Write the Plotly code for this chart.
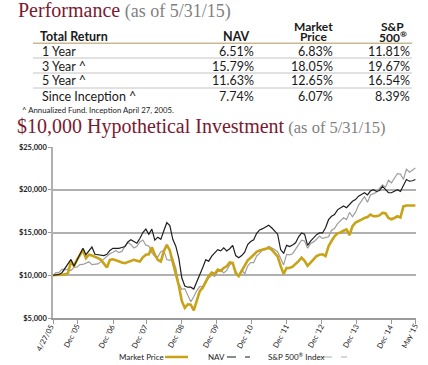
import plotly.graph_objects as go

# ---------------- data ----------------
x_tick_labels = ["4/27/05", "Dec '05", "Dec '06", "Dec '07", "Dec '08", "Dec '09",
                 "Dec '10", "Dec '11", "Dec '12", "Dec '13", "Dec '14", "May '15"]
y_tick_values = [5000, 10000, 15000, 20000, 25000]
y_tick_labels = ["$5,000", "$10,000", "$15,000", "$20,000", "$25,000"]

market_price = [10000, 10000, 10050, 10050, 10100, 10250, 11600, 11100, 11800, 12300,
                12950, 12000, 12400, 12300, 12180, 12000, 11800, 11300, 10900, 11800,
                11870, 11750, 11600, 11500, 11410, 11550, 11650, 11800, 11700, 11600,
                12100, 12400, 12450, 13270, 12400, 11800, 11600, 12800, 13550, 12900,
                11500, 10300, 8800, 7000, 6200, 6600, 6550, 5900, 7000, 8150,
                8550, 9300, 9900, 10300, 10150, 10650, 10500, 10850, 11050, 11500,
                11450, 10250, 9900, 10500, 11050, 11750, 12050, 12400, 12750, 12900,
                13000, 13100, 13200, 13000, 12600, 12200, 11100, 10150, 10850, 10850,
                11000, 11300, 11650, 12050, 11700, 11100, 11450, 11850, 12250, 12400,
                12450, 12250, 13400, 14000, 14550, 14900, 15000, 15200, 15350, 14700,
                15750, 16150, 16300, 16500, 16700, 16800, 17100, 16900, 16900, 17000,
                17300, 17250, 16700, 16550, 16700, 16900, 16750, 18050, 18150, 18150,
                18200, 18150]

nav = [10000, 10050, 10100, 10300, 10800, 11300, 11850, 11050, 11800, 12500,
       13150, 12400, 12900, 13300, 12450, 12400, 12350, 12300, 12450, 12900,
       13150, 13150, 13150, 13250, 13350, 13900, 14150, 13950, 13750, 14300,
       15000, 15400, 14800, 15400, 14100, 14450, 14200, 15200, 16150, 15800,
       14200, 13400, 12000, 9700, 8750, 8600, 8600, 8380, 9150, 10100,
       10900, 11800, 11650, 12230, 12620, 13000, 12850, 13200, 12850, 13100,
       13500, 12300, 12050, 12300, 12700, 13600, 13950, 14150, 14900, 15300,
       15450, 15650, 15850, 15550, 15150, 14800, 13000, 12550, 13500, 13350,
       13550, 13800, 14500, 14950, 14800, 13500, 14000, 14350, 14750, 14950,
       14950, 15550, 16500, 16900, 17100, 17650, 17850, 18100, 17900, 18300,
       18650, 18850, 19250, 19450, 19650, 19400, 19850, 20000, 19800, 19900,
       20400, 20050, 19650, 19650, 19850, 20000, 19800, 20600, 21200, 21000,
       21050, 21200]

sp500 = [10000, 10316, 10333, 10724, 10622, 10715, 10543, 10934, 10943, 11241,
         11266, 11411, 11570, 11233, 11253, 11331, 11592, 11898, 12295, 12519,
         12699, 12901, 12641, 12790, 13367, 13827, 13604, 13193, 13386, 13890,
         14120, 13522, 13429, 12631, 12213, 12162, 12763, 12921, 11832, 11736,
         11900, 10839, 9018, 8358, 8438, 7729, 6891, 7493, 8212, 8663,
         8680, 9340, 9670, 10033, 9853, 10437, 10641, 10266, 10576, 11218,
         11404, 10488, 9940, 10642, 10155, 11064, 11492, 11486, 12258, 12557,
         12982, 12991, 13385, 13228, 13009, 12752, 12049, 11204, 12433, 12392,
         12520, 13089, 13644, 14096, 14015, 13161, 13705, 13902, 14202, 14573,
         14309, 14375, 14503, 15261, 15457, 16042, 16361, 16730, 16508, 17355,
         16842, 17374, 18180, 18723, 19198, 18548, 19382, 19551, 19707, 20156,
         20577, 20303, 21104, 20814, 21334, 21896, 21843, 21202, 22406, 22055,
         22282, 22556]

table_rows = ["1 Year", "3 Year ^", "5 Year ^", "Since Inception ^"]
nav_returns = ["6.51%", "15.79%", "11.63%", "7.74%"]
market_returns = ["6.83%", "18.05%", "12.65%", "6.07%"]
sp_returns = ["11.81%", "19.67%", "16.54%", "8.39%"]

# ---------------- layout geometry ----------------
W, H = 428, 365
ML, MR, MT, MB = 53, 12, 147, 47
PW, PH = W - ML - MR, H - MT - MB


def px(x):
    return (x - ML) / PW


def py(y):
    return (H - MB - y) / PH


MAROON = "#7a1a30"
GOLD = "#c9a317"
SANS = "Lato, 'Open Sans', sans-serif"
SERIF = "'Liberation Serif', 'DejaVu Serif', serif"

fig = go.Figure()
fig.add_trace(go.Scatter(x=list(range(len(sp500))), y=sp500, mode="lines",
                         line=dict(color="#9e9e9e", width=1.2), name="S&P 500® Index"))
fig.add_trace(go.Scatter(x=list(range(len(market_price))), y=market_price, mode="lines",
                         line=dict(color=GOLD, width=2.6), name="Market Price"))
fig.add_trace(go.Scatter(x=list(range(len(nav))), y=nav, mode="lines",
                         line=dict(color="#1e1e1e", width=1.2), name="NAV"))

# tick positions (month-index units) matching the reference's tick placement
tick_px = [52.7, 77.5, 113.3, 146.3, 181.7, 216.7, 251.7, 286.7, 321.7, 356.7, 391.7, 416]
x_max = 121.2
tick_vals = [(p - 52.7) / (416.3 - 52.7) * x_max for p in tick_px]

annotations = []


def note(x, y, text, size, color="#1a1a1a", anchor="left", family=SANS,
         yanchor="middle", angle=0):
    annotations.append(dict(x=px(x), y=py(y), xref="paper", yref="paper", text=text,
                            showarrow=False, xanchor=anchor, yanchor=yanchor,
                            textangle=angle, borderpad=0,
                            font=dict(size=size, color=color, family=family)))


note(17, 10, f"<span style='color:{MAROON}'>Performance</span>"
     f"<span style='font-size:18px;color:#7f7f7f'> (as of 5/31/15)</span>",
     20, MAROON, family=SERIF)
note(16, 126, f"<span style='color:{MAROON}'>$10,000 Hypothetical Investment</span>"
     f"<span style='font-size:16.5px;color:#7f7f7f'> (as of 5/31/15)</span>",
     20, MAROON, family=SERIF)

note(39, 37, "<b>Total Return</b>", 12.5)
note(251, 37, "<b>NAV</b>", 12.5, anchor="right")
note(313.5, 26.5, "<b>Market</b>", 12, anchor="center")
note(313.5, 37, "<b>Price</b>", 12, anchor="center")
note(392.5, 26.5, "<b>S&P</b>", 12, anchor="center")
note(392.5, 37, "<b>500<sup>®</sup></b>", 12, anchor="center")

row_y = [51, 66, 81, 96]
for lab, a, b, c, yy in zip(table_rows, nav_returns, market_returns, sp_returns, row_y):
    note(41, yy, lab, 12.5)
    note(255, yy, a, 12.5, anchor="right")
    note(334, yy, b, 12.5, anchor="right")
    note(411, yy, c, 12.5, anchor="right")

note(21, 109.5, "^ Annualized Fund. Inception April 27, 2005.", 7.8)

# x tick labels, rotated, their upper end just below each tick
for lab, p in zip(x_tick_labels, tick_px):
    note(p + 5, 321.5, lab, 7.5, color="#222", anchor="right", yanchor="top", angle=-62)

# legend (text first, then line sample)
note(118, 356.5, "Market Price", 8)
note(207, 356.5, "NAV", 8)
note(267, 356.5, "S&P 500<sup>®</sup> Index", 8)

shapes = [
    dict(type="line", xref="paper", yref="paper", x0=px(33), x1=px(412), y0=py(43.3), y1=py(43.3),
         line=dict(color="#c8b98f", width=1.5)),
]
for yy in [58, 73, 88]:
    shapes.append(dict(type="line", xref="paper", yref="paper", x0=px(33), x1=px(412),
                       y0=py(yy), y1=py(yy), line=dict(color="#c4c4c4", width=1)))
shapes += [
    dict(type="line", xref="paper", yref="paper", x0=px(165), x1=px(188), y0=py(357), y1=py(357),
         line=dict(color=GOLD, width=2.5)),
    dict(type="line", xref="paper", yref="paper", x0=px(227), x1=px(250), y0=py(357), y1=py(357),
         line=dict(color="#666666", width=1.5, dash="dash")),
    dict(type="line", xref="paper", yref="paper", x0=px(323), x1=px(347), y0=py(357), y1=py(357),
         line=dict(color="#c8c8c8", width=1.5, dash="dash")),
]

fig.update_layout(
    width=W, height=H,
    margin=dict(l=ML, r=MR, t=MT, b=MB, pad=0),
    paper_bgcolor="white", plot_bgcolor="white",
    showlegend=False,
    annotations=annotations,
    shapes=shapes,
    xaxis=dict(range=[0, x_max], tickvals=tick_vals, ticktext=x_tick_labels,
               showticklabels=False, showgrid=False, zeroline=False,
               showline=True, linecolor="#9a9a9a", linewidth=1.5,
               ticks="outside", ticklen=4, tickcolor="#9a9a9a"),
    yaxis=dict(range=[5000, 25000], tickvals=y_tick_values,
               ticktext=[f"<b>{t}</b>" for t in y_tick_labels],
               showgrid=True, gridcolor="#b0b0b0", gridwidth=1.5, zeroline=False,
               showline=True, linecolor="#b0b0b0", linewidth=1.5,
               ticks="outside", ticklen=3, tickcolor="#9a9a9a",
               tickfont=dict(size=7.5, family=SANS, color="#222")),
)

fig.write_html("out.html", config={"displayModeBar": False},
               post_script="document.body.style.margin='0px';document.body.style.padding='0px';")
